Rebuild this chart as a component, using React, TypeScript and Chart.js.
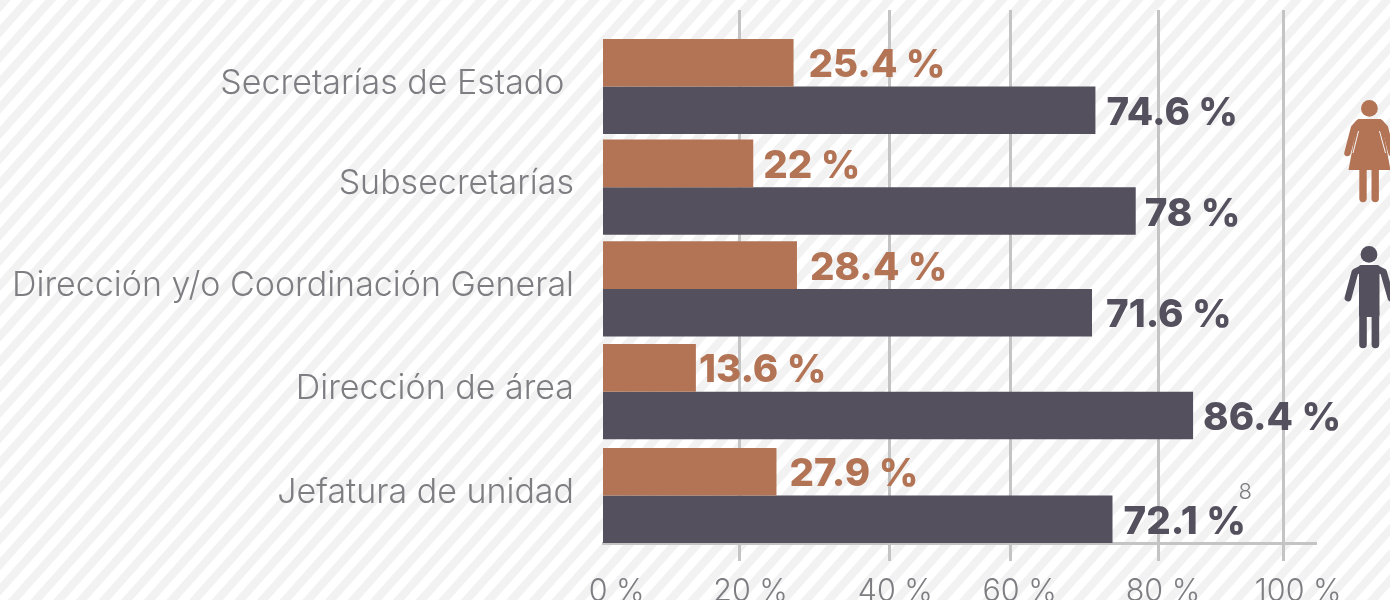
import React, { useEffect, useRef } from "react";
import { Chart, registerables } from "chart.js";

Chart.register(...registerables);

const categories = [
  "Secretarías de Estado ",
  "Subsecretarías",
  "Dirección y/o Coordinación General",
  "Dirección de área",
  "Jefatura de unidad",
];
const rows = [0, 0.985, 1.98, 2.985, 4];
const womenBars = [27.9, 22, 28.4, 13.6, 25.4];
const menBars = [72.1, 78, 71.6, 86.4, 74.6];
const womenLabels = ["25.4 %", "22 %", "28.4 %", "13.6 %", "27.9 %"];
const menLabels = ["74.6 %", "78 %", "71.6 %", "86.4 %", "72.1 %"];
const womenGaps = [15, 10, 13, 3, 13];
const menGaps = [11, 9, 14, 10, 11];
const gridValues = [20.05, 41.9, 59.7, 81.4, 99.6];
const tickLabelValues = [2, 21.6, 42.8, 61, 82, 101.8];
const tickLabels = ["0 %", "20 %", "40 %", "60 %", "80 %", "100 %"];
const footnote = "8";

const WOMEN = "#b37455";
const MEN = "#54505e";
const TEXT = "#7d7d82";
const GRID = "#c4c4c4";
const LIGHT = "Inter, 'Noto Sans', sans-serif";
const BOLD = "Inter, 'Noto Sans', sans-serif";

function stripes(ctx: CanvasRenderingContext2D, w: number, h: number) {
  ctx.save();
  ctx.fillStyle = "#ffffff";
  ctx.fillRect(0, 0, w, h);
  ctx.fillStyle = "#f2f2f2";
  const period = 22.65;
  const band = 11;
  const run = h / 1.12;
  for (let c = 0; c < w + run; c += period) {
    ctx.beginPath();
    ctx.moveTo(c, 0);
    ctx.lineTo(c + band, 0);
    ctx.lineTo(c + band - run, h);
    ctx.lineTo(c - run, h);
    ctx.closePath();
    ctx.fill();
  }
  ctx.restore();
}

function limb(ctx: CanvasRenderingContext2D, pts: number[][], width: number) {
  ctx.lineWidth = width;
  ctx.lineCap = "round";
  ctx.lineJoin = "round";
  ctx.beginPath();
  pts.forEach((p, i) => (i ? ctx.lineTo(p[0], p[1]) : ctx.moveTo(p[0], p[1])));
  ctx.stroke();
}

function woman(ctx: CanvasRenderingContext2D) {
  ctx.save();
  ctx.fillStyle = WOMEN;
  ctx.strokeStyle = WOMEN;
  ctx.beginPath();
  ctx.arc(1369.4, 108.4, 8.4, 0, Math.PI * 2);
  ctx.fill();
  ctx.beginPath();
  ctx.moveTo(1358, 119);
  ctx.lineTo(1381, 119);
  ctx.lineTo(1390.5, 170);
  ctx.lineTo(1348.5, 170);
  ctx.closePath();
  ctx.fill();
  limb(ctx, [[1358.5, 123], [1354, 128], [1347.5, 153]], 6.5);
  limb(ctx, [[1380.5, 123], [1385, 128], [1391.5, 153]], 6.5);
  limb(ctx, [[1363, 168], [1363, 198.5]], 7.4);
  limb(ctx, [[1375.2, 168], [1375.2, 198.5]], 7.4);
  ctx.strokeStyle = "#f7f7f7";
  ctx.lineWidth = 1;
  ctx.lineCap = "butt";
  ctx.beginPath();
  ctx.moveTo(1358.5, 131);
  ctx.lineTo(1353, 153);
  ctx.moveTo(1379.5, 131);
  ctx.lineTo(1385.5, 153);
  ctx.stroke();
  ctx.restore();
}

function man(ctx: CanvasRenderingContext2D) {
  ctx.save();
  ctx.fillStyle = MEN;
  ctx.strokeStyle = MEN;
  ctx.beginPath();
  ctx.arc(1369, 254.4, 8.4, 0, Math.PI * 2);
  ctx.fill();
  ctx.beginPath();
  ctx.roundRect(1359, 265, 20.5, 52, 2);
  ctx.fill();
  limb(ctx, [[1361, 269], [1355, 272], [1348, 298]], 6.8);
  limb(ctx, [[1377.5, 269], [1383.5, 272], [1391, 298]], 6.8);
  limb(ctx, [[1363, 312], [1363, 344.5]], 7.6);
  limb(ctx, [[1375.4, 312], [1375.4, 344.5]], 7.6);
  ctx.restore();
}

const decor = {
  id: "decor",
  beforeDraw(chart: any) {
    stripes(chart.ctx, chart.width, chart.height);
  },
  afterDatasetsDraw(chart: any) {
    const ctx = chart.ctx as CanvasRenderingContext2D;
    const groups: [number, string[], number[], string, number][] = [
      [0, womenLabels, womenGaps, WOMEN, 3],
      [1, menLabels, menGaps, MEN, 3],
    ];
    ctx.save();
    ctx.font = `800 38.5px ${BOLD}`;
    ctx.textAlign = "left";
    ctx.textBaseline = "middle";
    groups.forEach(([index, labels, gaps, colour, dy]) => {
      ctx.fillStyle = colour;
      chart.getDatasetMeta(index).data.forEach((bar: any, i: number) => {
        ctx.fillText(labels[i], bar.x + gaps[i], bar.y + dy);
      });
    });
    const last = chart.getDatasetMeta(1).data[4];
    ctx.font = `300 22px ${LIGHT}`;
    ctx.fillStyle = TEXT;
    ctx.fillText(footnote, last.x + 126, last.y - 27);
    ctx.restore();
    woman(ctx);
    man(ctx);
  },
};

export default function App() {
  const ref = useRef<HTMLCanvasElement>(null);
  useEffect(() => {
    document.body.style.margin = "0";
    const toPoints = (values: number[]) => values.map((x, i) => ({ x, y: rows[i] }));
    const chart = new Chart(ref.current as HTMLCanvasElement, {
      type: "bar",
      data: {
        datasets: [
          { label: "Mujeres", data: toPoints(womenBars), backgroundColor: WOMEN },
          { label: "Hombres", data: toPoints(menBars), backgroundColor: MEN },
        ],
      },
      plugins: [decor],
      options: {
        indexAxis: "y",
        animation: false,
        responsive: false,
        layout: { autoPadding: false, padding: { top: 10, right: 75, left: 0, bottom: 0 } },
        plugins: { legend: { display: false }, tooltip: { enabled: false } },
        datasets: { bar: { barPercentage: 1, categoryPercentage: 0.945 } },
        scales: {
          y: {
            type: "linear",
            bounds: "data",
            offset: false,
            reverse: true,
            min: -0.748,
            max: 4.4645,
            grid: { display: false },
            border: { display: false },
            afterBuildTicks: (s: any) => {
              s.ticks = rows.map((value) => ({ value }));
            },
            afterFit: (s: any) => {
              s.width = 603;
              s.paddingTop = 0;
              s.paddingBottom = 0;
            },
            ticks: {
              callback: (_v: any, i: number) => categories[i],
              color: TEXT,
              font: { family: LIGHT, size: 34, weight: "300" },
              padding: 21,
              labelOffset: -3,
              autoSkip: false,
            },
          },
          x: {
            type: "linear",
            bounds: "data",
            position: "bottom",
            weight: 0,
            min: 0,
            max: 104.25,
            grid: { color: GRID, lineWidth: 3, tickLength: 18, drawTicks: true },
            border: { display: true, color: GRID, width: 3 },
            afterBuildTicks: (s: any) => {
              s.ticks = gridValues.map((value) => ({ value }));
            },
            afterFit: (s: any) => {
              s.height = 18;
            },
            ticks: { display: false, autoSkip: false },
          },
          x2: {
            type: "linear",
            bounds: "data",
            position: "bottom",
            weight: 1,
            min: 0,
            max: 104.25,
            grid: { display: false },
            border: { display: false },
            afterBuildTicks: (s: any) => {
              s.ticks = tickLabelValues.map((value) => ({ value }));
            },
            afterFit: (s: any) => {
              s.height = 39;
            },
            ticks: {
              callback: (_v: any, i: number) => tickLabels[i],
              color: TEXT,
              font: { family: LIGHT, size: 30.5, weight: "300" },
              padding: 5,
              autoSkip: false,
              maxRotation: 0,
              minRotation: 0,
            },
          },
        },
      },
    } as any);
    return () => chart.destroy();
  }, []);
  return (
    <div style={{ width: 1390, height: 600 }}>
      <canvas ref={ref} width={1390} height={600} style={{ display: "block" }} />
    </div>
  );
}
